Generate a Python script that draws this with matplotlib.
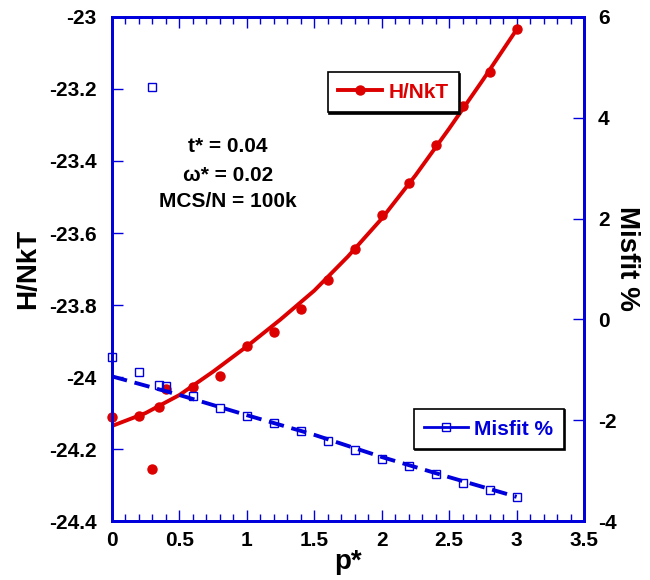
import matplotlib
matplotlib.use('Agg')
import matplotlib.pyplot as plt
from matplotlib.lines import Line2D

plt.rcParams['font.family'] = ['Liberation Sans', 'DejaVu Sans']
plt.rcParams['font.weight'] = 'bold'
plt.rcParams['axes.unicode_minus'] = False

red = '#dd0000'
blue = '#0000dd'

# energy per particle vs p*
p_H = [0, 0.2, 0.3, 0.35, 0.4, 0.6, 0.8, 1.0, 1.2, 1.4, 1.6, 1.8, 2.0, 2.2, 2.4, 2.6, 2.8, 3.0]
H = [-24.112, -24.109, -24.256, -24.083, -24.034, -24.027, -23.997, -23.915, -23.876,
     -23.81, -23.73, -23.645, -23.55, -23.462, -23.356, -23.247, -23.153, -23.033]

# trend line of H/NkT
p_Hfit = [0, 0.25, 0.5, 0.75, 1.0, 1.25, 1.5, 1.75, 2.0, 2.25, 2.5, 2.75, 3.0]
H_fit = [-24.136, -24.10, -24.05, -23.985, -23.915, -23.84, -23.76, -23.665,
         -23.56, -23.44, -23.31, -23.175, -23.035]

# misfit in percent
p_M = [0, 0.2, 0.3, 0.35, 0.4, 0.6, 0.8, 1.0, 1.2, 1.4, 1.6, 1.8, 2.0, 2.2, 2.4, 2.6, 2.8, 3.0]
misfit = [-0.74, -1.04, 4.61, -1.30, -1.33, -1.52, -1.76, -1.92, -2.06, -2.21,
          -2.41, -2.59, -2.76, -2.90, -3.07, -3.24, -3.38, -3.53]

p_Mfit = [0, 0.5, 1.0, 1.5, 2.0, 2.5, 3.0]
misfit_fit = [-1.13, -1.50, -1.90, -2.29, -2.73, -3.13, -3.52]

fig = plt.figure(figsize=(6.5, 5.8), dpi=100)
ax = fig.add_axes([0.1723, 0.1017, 0.7262, 0.869])
ax2 = ax.twinx()

ax.plot(p_Hfit, H_fit, '-', color=red, linewidth=2.8)
ax.plot(p_H, H, 'o', color=red, markersize=6.5, clip_on=False, zorder=3)

ax2.plot(p_Mfit, misfit_fit, '--', color=blue, linewidth=2.8, dashes=(4, 2))
ax2.plot(p_M, misfit, 's', color=blue, markersize=6, markerfacecolor='none',
         markeredgewidth=1.0, clip_on=False, zorder=3)

ax.set_xlim(0, 3.5)
ax.set_ylim(-24.4, -23)
ax2.set_ylim(-4, 6)
ax.set_xticks([0, 0.5, 1, 1.5, 2, 2.5, 3, 3.5])
ax.set_xticklabels(['0', '0.5', '1', '1.5', '2', '2.5', '3', '3.5'])
ax.set_xticks([i / 10 for i in range(36)], minor=True)
ax.set_yticks([-24.4, -24.2, -24, -23.8, -23.6, -23.4, -23.2, -23])
ax.set_yticklabels(['-24.4', '-24.2', '-24', '-23.8', '-23.6', '-23.4', '-23.2', '-23'])
ax2.set_yticks([-4, -2, 0, 2, 4, 6])

for a in (ax, ax2):
    for s in a.spines.values():
        s.set_color(blue)
        s.set_linewidth(2)

ax.tick_params(axis='x', which='both', direction='in', top=True, color=blue,
               labelsize=15, pad=7)
ax.tick_params(axis='x', which='major', length=8, width=1)
ax.tick_params(axis='x', which='minor', length=5, width=1)
ax.tick_params(axis='y', direction='in', length=8, width=1, color=blue,
               labelsize=15, pad=11)
ax2.tick_params(axis='y', direction='in', length=8, width=1, color=blue,
                labelsize=15, pad=10)

ax.set_xlabel('p*', fontsize=20, fontweight='bold', va='center')
ax.xaxis.set_label_coords(0.5, -0.082)
ax.set_ylabel('H/NkT', fontsize=20, fontweight='bold', va='center')
ax.yaxis.set_label_coords(-0.177, 0.5)
ax2.set_ylabel('Misfit %', fontsize=20, fontweight='bold', rotation=270, va='center')
ax2.yaxis.set_label_coords(1.091, 0.52)

ax.text(0.2458, 0.7425, 't* = 0.04', transform=ax.transAxes, ha='center', va='center', fontsize=15)
ax.text(0.2458, 0.6865, '\u03c9* = 0.02', transform=ax.transAxes, ha='center', va='center', fontsize=15)
ax.text(0.2458, 0.6339, 'MCS/N = 100k', transform=ax.transAxes, ha='center', va='center', fontsize=15)

h1 = Line2D([], [], color=red, linewidth=2.8, marker='o', markersize=6.5)
leg1 = ax2.legend([h1], ['H/NkT'], loc='center', bbox_to_anchor=(0.6054, 0.841),
                  bbox_transform=fig.transFigure, fontsize=15, fancybox=False,
                  edgecolor='black', framealpha=1, handlelength=2.1, borderpad=0.5,
                  handletextpad=0.3,
                  shadow={'ox': 1, 'oy': -1, 'color': 'black', 'alpha': 1})
leg1.get_frame().set_linewidth(1.2)
for t in leg1.get_texts():
    t.set_color(red)
ax2.add_artist(leg1)

h2 = Line2D([], [], color=blue, linewidth=2.0, marker='s', markersize=6,
            markerfacecolor='none', markeredgewidth=1.0)
leg2 = ax2.legend([h2], ['Misfit %'], loc='center', bbox_to_anchor=(0.7523, 0.2603),
                  bbox_transform=fig.transFigure, fontsize=15, fancybox=False,
                  edgecolor='black', framealpha=1, handlelength=2.1, borderpad=0.5,
                  handletextpad=0.3,
                  shadow={'ox': 1, 'oy': -1, 'color': 'black', 'alpha': 1})
leg2.get_frame().set_linewidth(1.2)
for t in leg2.get_texts():
    t.set_color(blue)

fig.savefig('out.png', dpi=100)
